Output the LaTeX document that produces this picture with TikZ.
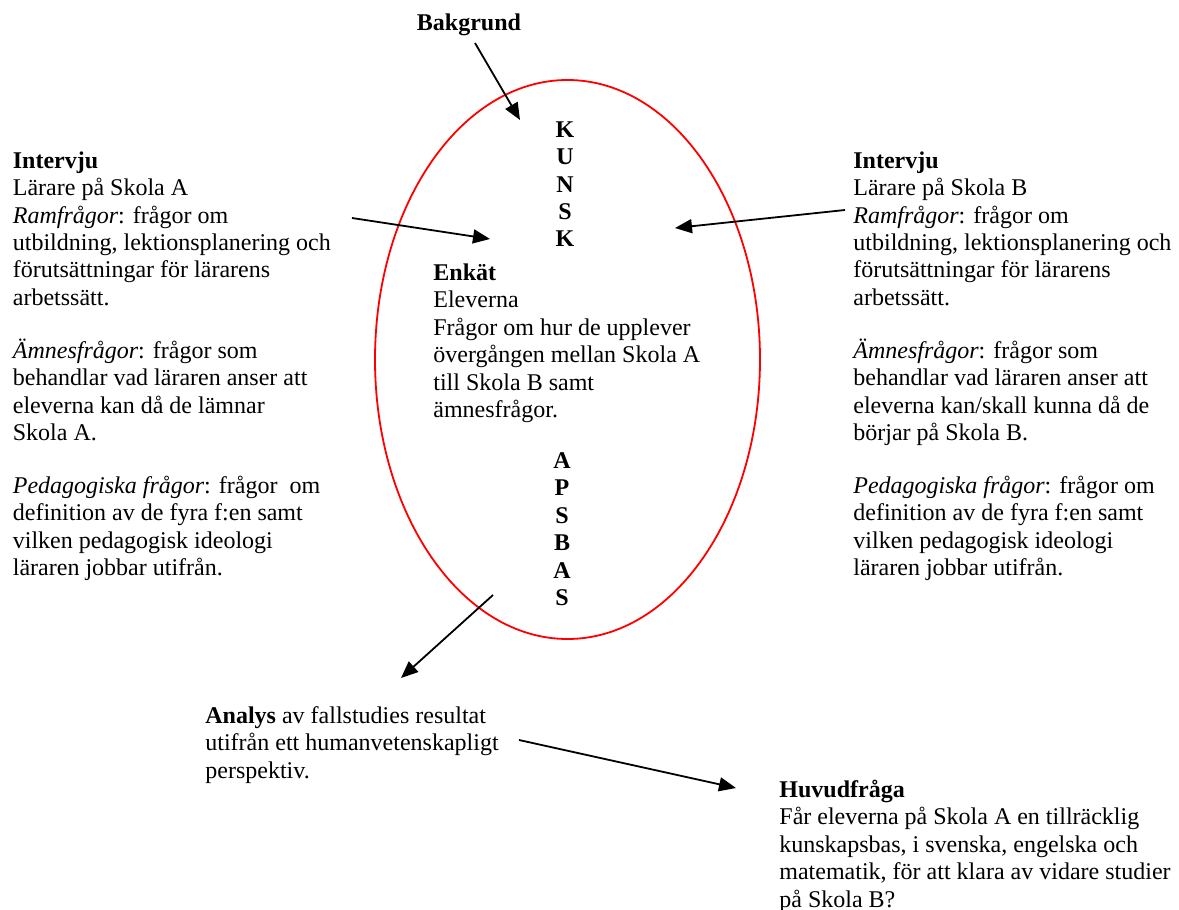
\documentclass[tikz,border=0pt]{standalone}
\usepackage{fontspec}
\setmainfont{Liberation Serif}
\usetikzlibrary{shapes.geometric,arrows.meta}
\newcommand{\blk}[1]{\begin{tabular}[t]{@{}l@{}}#1\end{tabular}}
\newcommand{\vblk}[1]{\begin{tabular}[t]{@{}c@{}}#1\end{tabular}}
\newcommand{\itx}[1]{{\itshape #1}}
\begin{document}
\begin{tikzpicture}[x=0.5pt,y=-0.5pt,
  txt/.style={inner sep=0pt, anchor=base west, font=\fontsize{12}{13.75}\selectfont},
  letters/.style={inner sep=0pt, anchor=base, font=\fontsize{12}{13.75}\selectfont\bfseries},
  conn/.style={line width=0.9pt, -{Triangle[length=8.5pt,width=7pt]}},
  oval/.style={ellipse, draw=red, line width=0.9pt, inner sep=0pt,
    minimum width=192.5pt, minimum height=279.5pt}]
\useasboundingbox (0,0) rectangle (1179,910);

\node[oval] (ring) at (567.5,359.5) {};

\node[letters] (bak) at (469,31) {Bakgrund};

\node[letters] (kunsk) at (565,137) {\vblk{K\\U\\N\\S\\K}};
\node[letters] (apsbas) at (562,468) {\vblk{A\\P\\S\\B\\A\\S}};

\node[txt] (left) at (12.5,168) {\blk{\textbf{Intervju}\\
Lärare på Skola A\\
\itx{Ramfrågor}: frågor om\\
utbildning, lektionsplanering och\\
förutsättningar för lärarens\\
arbetssätt.\\[12.5pt]
\itx{Ämnesfrågor}: frågor som\\
behandlar vad läraren anser att\\
eleverna kan då de lämnar\\
Skola A.\\[12.5pt]
\itx{Pedagogiska frågor}: frågor\ \ om\\
definition av de fyra f:en samt\\
vilken pedagogisk ideologi\\
läraren jobbar utifrån.}};

\node[txt] (right) at (853,168) {\blk{\textbf{Intervju}\\
Lärare på Skola B\\
\itx{Ramfrågor}: frågor om\\
utbildning, lektionsplanering och\\
förutsättningar för lärarens\\
arbetssätt.\\[12.5pt]
\itx{Ämnesfrågor}: frågor som\\
behandlar vad läraren anser att\\
eleverna kan/skall kunna då de\\
börjar på Skola B.\\[12.5pt]
\itx{Pedagogiska frågor}: frågor om\\
definition av de fyra f:en samt\\
vilken pedagogisk ideologi\\
läraren jobbar utifrån.}};

\node[txt] (enkat) at (433,280) {\blk{\textbf{Enkät}\\
Eleverna\\
Frågor om hur de upplever\\
övergången mellan Skola A\\
till Skola B samt\\
ämnesfrågor.}};

\node[txt] (analys) at (205,723) {\blk{\textbf{Analys} av fallstudies resultat\\
utifrån ett humanvetenskapligt\\
perspektiv.}};

\node[txt] (huvud) at (779,797) {\blk{\textbf{Huvudfråga}\\
Får eleverna på Skola A en tillräcklig\\
kunskapsbas, i svenska, engelska och\\
matematik, för att klara av vidare studier\\
på Skola B?}};

\coordinate (bakS) at (475,43);
\coordinate (bakE) at (520,120);
\coordinate (lS) at (352,218);
\coordinate (lE) at (490,239);
\coordinate (rS) at (845,210);
\coordinate (rE) at (675,228);
\coordinate (bS) at (493,595);
\coordinate (bE) at (401,678);
\coordinate (aS) at (519,740);
\coordinate (aE) at (736,788);

\draw[conn] (bakS) -- (bakE);
\draw[conn] (lS) -- (lE);
\draw[conn] (rS) -- (rE);
\draw[conn] (bS) -- (bE);
\draw[conn] (aS) -- (aE);
\end{tikzpicture}
\end{document}
